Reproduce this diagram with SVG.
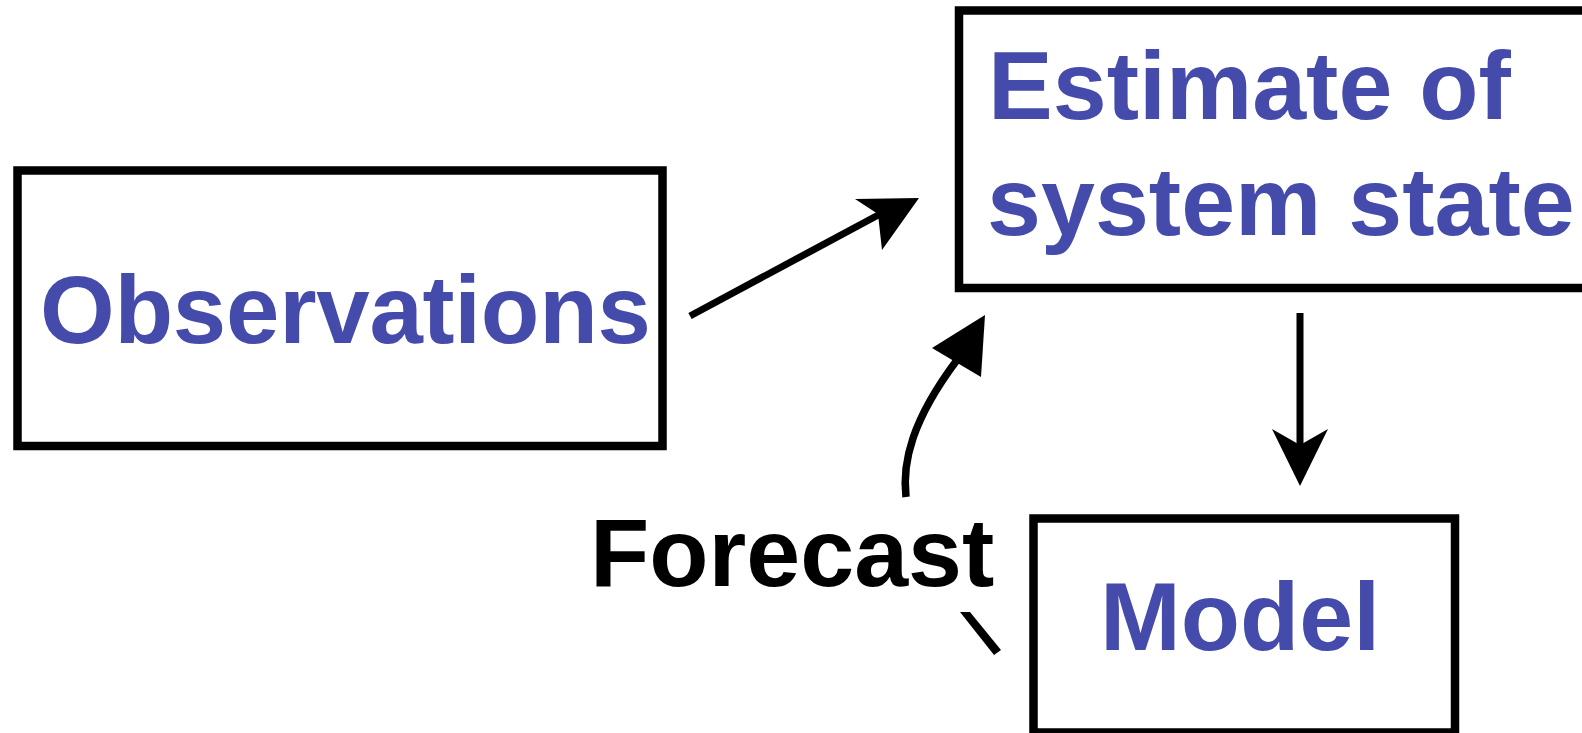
<svg xmlns="http://www.w3.org/2000/svg" width="1582" height="733" viewBox="0 0 1582 733">
<style>
.box{fill:#fff;stroke:#000;stroke-width:8.5}
.lbl{font-family:"Liberation Sans",Arial,sans-serif;font-weight:bold;font-size:96px;fill:#454BAA}
.blk{fill:#000}
.ln{fill:none;stroke:#000;stroke-width:7}
</style>
<rect width="1582" height="733" fill="#fff"/>
<g id="observations">
<rect class="box" x="17.5" y="170.5" width="645" height="275.5"/>
<text class="lbl" x="40" y="343" textLength="611">Observations</text>
</g>
<g id="estimate">
<rect class="box" x="959" y="10.5" width="700" height="277.5"/>
<text class="lbl" x="988" y="119" style="font-size:97px">Estimate of</text>
<text class="lbl" x="987" y="235" style="font-size:97px">system state</text>
</g>
<g id="model">
<rect class="box" x="1033.5" y="518.5" width="421.5" height="214"/>
<text class="lbl" x="1100" y="650" style="font-size:97px">Model</text>
</g>
<g id="forecast-label">
<text class="lbl" x="590" y="586" style="fill:#000;font-size:97px">Forecast</text>
</g>
<g id="connectors">
<line class="ln" x1="690" y1="316" x2="882" y2="213"/>
<polygon class="blk" points="855,199 919,198 882,250 878,214"/>
<path class="ln" style="stroke-width:7.5" d="M906,497 C902,462 912,420 957,360"/>
<polygon class="blk" points="932,348 985,315 981,377"/>
<line class="ln" x1="1300" y1="313" x2="1300" y2="446"/>
<polygon class="blk" points="1272,429 1300,445 1328,429 1300,486"/>
<polygon class="blk" points="960,612 970,612 1001,650 994,655"/>
</g>
</svg>
